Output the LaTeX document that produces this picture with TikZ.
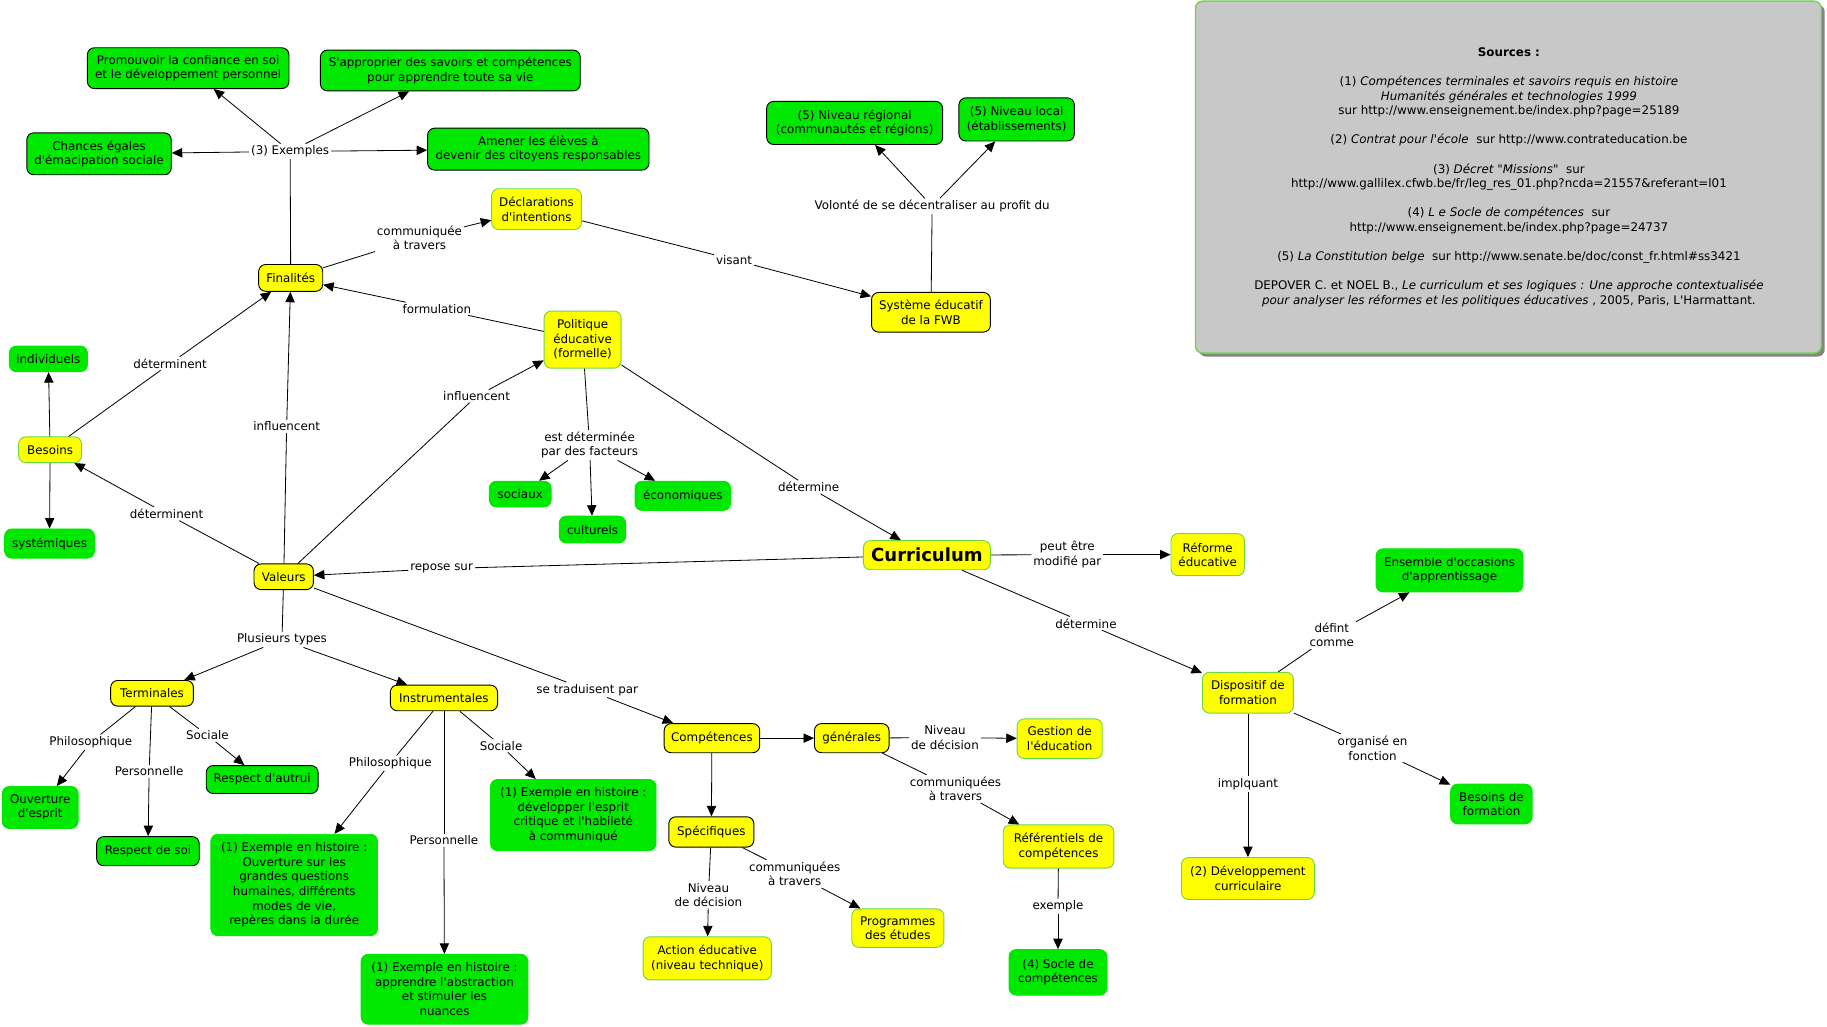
\documentclass[tikz,border=0pt]{standalone}
\usepackage{fontspec}
\setmainfont{DejaVu Sans}[Ligatures=TeXOff]
\usetikzlibrary{arrows.meta,shadows}
\definecolor{cgreen}{RGB}{0,232,0}
\definecolor{cyellow}{RGB}{255,255,0}
\definecolor{cborder}{RGB}{110,215,70}
\definecolor{srcgrey}{RGB}{200,200,200}
\newcommand\myfnt{\fontsize{10.2}{12.5}\selectfont}
\begin{document}
\begin{tikzpicture}[x=1pt,y=-1pt,
  box/.style={rounded corners=6pt, align=center, inner sep=1pt, font=\myfnt, line width=0.8pt},
  sz/.style 2 args={minimum width=#1pt, minimum height=#2pt},
  gk/.style={box, fill=cgreen, draw=black},
  gg/.style={box, fill=cgreen, draw=cgreen},
  yk/.style={box, fill=cyellow, draw=black},
  yg/.style={box, fill=cyellow, draw=cborder},
  lbl/.style={font=\myfnt, align=center, inner sep=1.5pt},
  arr/.style={-{Triangle[length=9pt,width=8pt]}, line width=0.7pt},
  ln/.style={line width=0.7pt}]
\fill[white] (0,0) rectangle (1568,881);
\useasboundingbox (0,0) rectangle (1568,881);

% Sources box
\node[rounded corners=6pt, draw=cborder, line width=1.2pt, fill=srcgrey, sz={537}{302},
  drop shadow={shadow xshift=3pt, shadow yshift=-3pt, fill=gray!80!black, opacity=0.8}] (src) at (1294.5,152) {};
\node[font=\myfnt, align=center, inner sep=0pt] (srctxt) at (1295,152) {%
\textbf{Sources :}\\[12.5pt]
(1) \textit{Compétences terminales et savoirs requis en histoire}\\
\textit{Humanités générales et technologies 1999}\\
sur http://www.enseignement.be/index.php?page=25189\\[12.5pt]
(2) \textit{Contrat pour l'école}\ \ sur http://www.contrateducation.be\\[12.5pt]
(3) \textit{Décret "Missions"}\ \ sur\\
http://www.gallilex.cfwb.be/fr/leg\_res\_01.php?ncda=21557\&referant=l01\\[12.5pt]
(4) \textit{L e Socle de compétences}\ \ sur\\
http://www.enseignement.be/index.php?page=24737\\[12.5pt]
(5) \textit{La Constitution belge}\ \ sur http://www.senate.be/doc/const\_fr.html\#ss3421\\[12.5pt]
DEPOVER C. et NOEL B., \textit{Le curriculum et ses logiques : Une approche contextualisée}\\
\textit{pour analyser les réformes et les politiques éducatives} , 2005, Paris, L'Harmattant.};

% concept nodes
\node[gk, sz={173}{35}] (prom) at (161.5,58.5) {Promouvoir la confiance en soi\\et le développement personnel};
\node[gk, sz={223}{35}] (appr) at (386.5,60.5) {S'approprier des savoirs et compétences\\pour apprendre toute sa vie};
\node[gk, sz={124}{36}] (chan) at (85,132) {Chances égales\\d'émacipation sociale};
\node[gk, sz={190}{36}] (amen) at (462,128) {Amener les élèves à\\devenir des citoyens responsables};
\node[yg, sz={77}{35}] (decl) at (460.5,179.5) {Déclarations\\d'intentions};
\node[yk, sz={55}{23}] (fin) at (249.5,238.5) {Finalités};
\node[yg, sz={66}{49}] (poli) at (500,291.5) {Politique\\éducative\\(formelle)};
\node[gk, sz={151}{37}] (nreg) at (733.5,105.5) {(5) Niveau régional\\(communautés et régions)};
\node[gk, sz={99}{37}] (nloc) at (872.5,102.5) {(5) Niveau local\\(établissements)};
\node[yk, sz={102}{34}] (syst) at (799,268) {Système éducatif\\de la FWB};
\node[gg, sz={67}{22}] (indiv) at (41.5,308) {individuels};
\node[yg, sz={54}{22}] (bes) at (43,386) {Besoins};
\node[gg, sz={77}{25}] (syste) at (42.5,466.5) {systémiques};
\node[yk, sz={51}{22}] (val) at (243.5,495) {Valeurs};
\node[gg, sz={53}{22}] (soc) at (446.5,424) {sociaux};
\node[gg, sz={57}{23}] (cult) at (508.5,454.5) {culturels};
\node[gg, sz={82}{25}] (eco) at (586,425.5) {économiques};
\node[yg, sz={109}{25}, font=\fontsize{15.5}{18}\selectfont\bfseries] (curr) at (795.5,476.5) {Curriculum};
\node[yg, sz={63}{36}] (refo) at (1036.5,476) {Réforme\\éducative};
\node[gg, sz={126}{37}] (ens) at (1244,489.5) {Ensemble d'occasions\\d'apprentissage};
\node[yg, sz={78}{35}] (disp) at (1071,594.5) {Dispositif de\\formation};
\node[gg, sz={70}{34}] (besf) at (1280,690) {Besoins de\\formation};
\node[yg, sz={114}{36}] (dev) at (1071,754) {(2) Développement\\curriculaire};
\node[yk, sz={71}{22}] (term) at (130.5,595) {Terminales};
\node[yk, sz={92}{22}] (instr) at (381,599) {Instrumentales};
\node[yk, sz={82}{25}] (comp) at (611,633.5) {Compétences};
\node[yk, sz={64}{25}] (gen) at (731,633.5) {générales};
\node[yg, sz={73}{34}] (gest) at (909.5,634) {Gestion de\\l'éducation};
\node[yg, sz={95}{37}] (refc) at (908.5,726.5) {Référentiels de\\compétences};
\node[gg, sz={84}{39}] (socle) at (908,834.5) {(4) Socle de\\compétences};
\node[yk, sz={73}{26}] (spec) at (610.5,714) {Spécifiques};
\node[yg, sz={110}{37}] (act) at (607,822.5) {Action éducative\\(niveau technique)};
\node[yg, sz={79}{33}] (prog) at (770.5,796.5) {Programmes\\des études};
\node[gg, sz={65}{36}] (ouv) at (34.5,693) {Ouverture\\d'esprit};
\node[gk, sz={88}{25}] (rsoi) at (127,730.5) {Respect de soi};
\node[gk, sz={96}{24}] (raut) at (225,669) {Respect d'autrui};
\node[gg, sz={143}{87}] (exa) at (252.5,759.5) {(1) Exemple en histoire :\\Ouverture sur les\\grandes questions\\humaines, différents\\modes de vie,\\repères dans la durée};
\node[gg, sz={143}{60}] (exb) at (381.5,849) {(1) Exemple en histoire :\\apprendre l'abstraction\\et stimuler les\\nuances};
\node[gg, sz={142}{61}] (exc) at (492,699.5) {(1) Exemple en histoire :\\développer l'esprit\\critique et l'habileté\\à communiqué};

% linking phrases
\node[lbl] (lex) at (249,130) {(3) Exemples};
\node[lbl] (lcom) at (360,204) {communiquée\\à travers};
\node[lbl] (lvis) at (630,223) {visant};
\node[lbl] (lvol) at (800,177) {Volonté de se décentraliser au profit du};
\node[lbl] (lform) at (375,265) {formulation};
\node[lbl] (ldeta) at (146,312) {déterminent};
\node[lbl] (linfa) at (246,366) {influencent};
\node[lbl] (linfb) at (409,340) {influencent};
\node[lbl] (ldetb) at (143,441) {déterminent};
\node[lbl] (lfac) at (506,382) {est déterminée\\par des facteurs};
\node[lbl] (ldetc) at (694,418) {détermine};
\node[lbl] (lrep) at (379,488) {repose sur};
\node[lbl] (lpeut) at (916,476) {peut être\\modifié par};
\node[lbl] (ldetd) at (932,535) {détermine};
\node[lbl] (ldef) at (1143,545) {défint\\comme};
\node[lbl] (lorg) at (1178,642) {organisé en\\fonction};
\node[lbl] (limp) at (1071,673) {implquant};
\node[lbl] (lplu) at (242,549) {Plusieurs types};
\node[lbl] (lsetr) at (504,592) {se traduisent par};
\node[lbl] (lniva) at (811,633) {Niveau\\de décision};
\node[lbl] (lcomb) at (820,677) {communiquées\\à travers};
\node[lbl] (lexe) at (908,778) {exemple};
\node[lbl] (lnivb) at (608,768) {Niveau\\de décision};
\node[lbl] (lcomc) at (682,750) {communiquées\\à travers};
\node[lbl] (lphia) at (78,637) {Philosophique};
\node[lbl] (lpera) at (128,662) {Personnelle};
\node[lbl] (lsoca) at (178,631) {Sociale};
\node[lbl] (lphib) at (335,655) {Philosophique};
\node[lbl] (lperb) at (381,721) {Personnelle};
\node[lbl] (lsocb) at (430,640) {Sociale};

% connectors
\draw[ln] (fin) -- (lex);
\draw[arr] (lex) -- (prom);
\draw[arr] (lex) -- (appr);
\draw[arr] (lex) -- (chan);
\draw[arr] (lex) -- (amen);
\draw[ln] (fin) -- (lcom);
\draw[arr] (lcom) -- (decl);
\draw[ln] (decl) -- (lvis);
\draw[arr] (lvis) -- (syst);
\draw[ln] (syst) -- (lvol);
\draw[arr] (lvol) -- (nreg);
\draw[arr] (lvol) -- (nloc);
\draw[ln] (poli) -- (lform);
\draw[arr] (lform) -- (fin);
\draw[ln] (bes) -- (ldeta);
\draw[arr] (ldeta) -- (fin);
\draw[arr] (bes) -- (indiv);
\draw[arr] (bes) -- (syste);
\draw[ln] (val) -- (linfa);
\draw[arr] (linfa) -- (fin);
\draw[ln] (val) -- (linfb);
\draw[arr] (linfb) -- (poli);
\draw[ln] (val) -- (ldetb);
\draw[arr] (ldetb) -- (bes);
\draw[ln] (poli) -- (lfac);
\draw[arr] (lfac) -- (soc);
\draw[arr] (lfac) -- (cult);
\draw[arr] (lfac) -- (eco);
\draw[ln] (poli) -- (ldetc);
\draw[arr] (ldetc) -- (curr);
\draw[ln] (curr) -- (lrep);
\draw[arr] (lrep) -- (val);
\draw[ln] (curr) -- (lpeut);
\draw[arr] (lpeut) -- (refo);
\draw[ln] (curr) -- (ldetd);
\draw[arr] (ldetd) -- (disp);
\draw[ln] (disp) -- (ldef);
\draw[arr] (ldef) -- (ens);
\draw[ln] (disp) -- (lorg);
\draw[arr] (lorg) -- (besf);
\draw[ln] (disp) -- (limp);
\draw[arr] (limp) -- (dev);
\draw[ln] (val) -- (lplu);
\draw[arr] (lplu) -- (term);
\draw[arr] (lplu) -- (instr);
\draw[ln] (val) -- (lsetr);
\draw[arr] (lsetr) -- (comp);
\draw[arr] (comp) -- (gen);
\draw[arr] (comp) -- (spec);
\draw[ln] (gen) -- (lniva);
\draw[arr] (lniva) -- (gest);
\draw[ln] (gen) -- (lcomb);
\draw[arr] (lcomb) -- (refc);
\draw[ln] (refc) -- (lexe);
\draw[arr] (lexe) -- (socle);
\draw[ln] (spec) -- (lnivb);
\draw[arr] (lnivb) -- (act);
\draw[ln] (spec) -- (lcomc);
\draw[arr] (lcomc) -- (prog);
\draw[ln] (term) -- (lphia);
\draw[arr] (lphia) -- (ouv);
\draw[ln] (term) -- (lpera);
\draw[arr] (lpera) -- (rsoi);
\draw[ln] (term) -- (lsoca);
\draw[arr] (lsoca) -- (raut);
\draw[ln] (instr) -- (lphib);
\draw[arr] (lphib) -- (exa);
\draw[ln] (instr) -- (lperb);
\draw[arr] (lperb) -- (exb);
\draw[ln] (instr) -- (lsocb);
\draw[arr] (lsocb) -- (exc);
\end{tikzpicture}
\end{document}
